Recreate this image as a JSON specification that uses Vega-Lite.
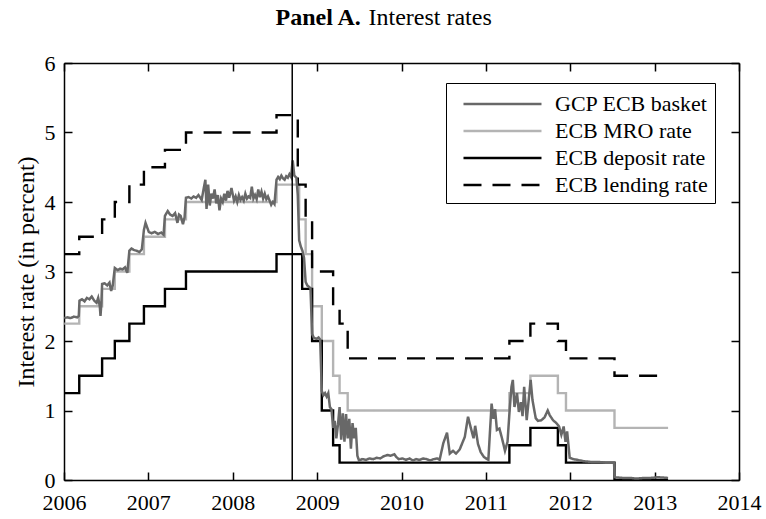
{
  "$schema": "https://vega.github.io/schema/vega-lite/v6.json",
  "width": 675,
  "height": 417,
  "autosize": {"type": "none"},
  "padding": {"left": 64, "top": 63, "right": 27, "bottom": 39},
  "background": "white",
  "config": {
    "view": {"stroke": null},
    "axis": {
      "domainColor": "black",
      "domainWidth": 1.5,
      "tickColor": "black",
      "tickWidth": 1.5,
      "grid": false,
      "labelFont": "Liberation Serif",
      "labelFontSize": 22,
      "labelColor": "black",
      "labelFlush": false,
      "titleFont": "Liberation Serif",
      "titleFontSize": 24,
      "titleFontWeight": "normal",
      "titleColor": "black"
    }
  },
  "resolve": {"axis": {"x": "independent", "y": "independent"}},
  "datasets": {
    "rates": [
      {"d": "2006-01-02", "s": "ECB MRO rate", "v": 2.25},
      {"d": "2006-03-08", "s": "ECB MRO rate", "v": 2.5},
      {"d": "2006-06-15", "s": "ECB MRO rate", "v": 2.75},
      {"d": "2006-08-09", "s": "ECB MRO rate", "v": 3.0},
      {"d": "2006-10-11", "s": "ECB MRO rate", "v": 3.25},
      {"d": "2006-12-13", "s": "ECB MRO rate", "v": 3.5},
      {"d": "2007-03-14", "s": "ECB MRO rate", "v": 3.75},
      {"d": "2007-06-13", "s": "ECB MRO rate", "v": 4.0},
      {"d": "2008-07-09", "s": "ECB MRO rate", "v": 4.25},
      {"d": "2008-10-15", "s": "ECB MRO rate", "v": 3.75},
      {"d": "2008-11-12", "s": "ECB MRO rate", "v": 3.25},
      {"d": "2008-12-10", "s": "ECB MRO rate", "v": 2.5},
      {"d": "2009-01-21", "s": "ECB MRO rate", "v": 2.0},
      {"d": "2009-03-11", "s": "ECB MRO rate", "v": 1.5},
      {"d": "2009-04-08", "s": "ECB MRO rate", "v": 1.25},
      {"d": "2009-05-13", "s": "ECB MRO rate", "v": 1.0},
      {"d": "2011-04-13", "s": "ECB MRO rate", "v": 1.25},
      {"d": "2011-07-13", "s": "ECB MRO rate", "v": 1.5},
      {"d": "2011-11-09", "s": "ECB MRO rate", "v": 1.25},
      {"d": "2011-12-14", "s": "ECB MRO rate", "v": 1.0},
      {"d": "2012-07-11", "s": "ECB MRO rate", "v": 0.75},
      {"d": "2013-02-28", "s": "ECB MRO rate", "v": 0.75},
      {"d": "2006-01-02", "s": "ECB deposit rate", "v": 1.25},
      {"d": "2006-03-08", "s": "ECB deposit rate", "v": 1.5},
      {"d": "2006-06-15", "s": "ECB deposit rate", "v": 1.75},
      {"d": "2006-08-09", "s": "ECB deposit rate", "v": 2.0},
      {"d": "2006-10-11", "s": "ECB deposit rate", "v": 2.25},
      {"d": "2006-12-13", "s": "ECB deposit rate", "v": 2.5},
      {"d": "2007-03-14", "s": "ECB deposit rate", "v": 2.75},
      {"d": "2007-06-13", "s": "ECB deposit rate", "v": 3.0},
      {"d": "2008-07-09", "s": "ECB deposit rate", "v": 3.25},
      {"d": "2008-10-28", "s": "ECB deposit rate", "v": 2.75},
      {"d": "2008-12-10", "s": "ECB deposit rate", "v": 2.0},
      {"d": "2009-01-21", "s": "ECB deposit rate", "v": 1.0},
      {"d": "2009-03-11", "s": "ECB deposit rate", "v": 0.5},
      {"d": "2009-04-08", "s": "ECB deposit rate", "v": 0.25},
      {"d": "2011-04-13", "s": "ECB deposit rate", "v": 0.5},
      {"d": "2011-07-13", "s": "ECB deposit rate", "v": 0.75},
      {"d": "2011-11-09", "s": "ECB deposit rate", "v": 0.5},
      {"d": "2011-12-14", "s": "ECB deposit rate", "v": 0.25},
      {"d": "2012-07-11", "s": "ECB deposit rate", "v": 0.0},
      {"d": "2013-02-28", "s": "ECB deposit rate", "v": 0.0},
      {"d": "2006-01-02", "s": "ECB lending rate", "v": 3.25},
      {"d": "2006-03-08", "s": "ECB lending rate", "v": 3.5},
      {"d": "2006-06-15", "s": "ECB lending rate", "v": 3.75},
      {"d": "2006-08-09", "s": "ECB lending rate", "v": 4.0},
      {"d": "2006-10-11", "s": "ECB lending rate", "v": 4.25},
      {"d": "2006-12-13", "s": "ECB lending rate", "v": 4.5},
      {"d": "2007-03-14", "s": "ECB lending rate", "v": 4.75},
      {"d": "2007-06-13", "s": "ECB lending rate", "v": 5.0},
      {"d": "2008-07-09", "s": "ECB lending rate", "v": 5.25},
      {"d": "2008-10-09", "s": "ECB lending rate", "v": 4.25},
      {"d": "2008-11-12", "s": "ECB lending rate", "v": 3.75},
      {"d": "2008-12-10", "s": "ECB lending rate", "v": 3.0},
      {"d": "2009-03-11", "s": "ECB lending rate", "v": 2.5},
      {"d": "2009-04-08", "s": "ECB lending rate", "v": 2.25},
      {"d": "2009-05-13", "s": "ECB lending rate", "v": 1.75},
      {"d": "2011-04-13", "s": "ECB lending rate", "v": 2.0},
      {"d": "2011-07-13", "s": "ECB lending rate", "v": 2.25},
      {"d": "2011-11-09", "s": "ECB lending rate", "v": 2.0},
      {"d": "2011-12-14", "s": "ECB lending rate", "v": 1.75},
      {"d": "2012-07-11", "s": "ECB lending rate", "v": 1.5},
      {"d": "2013-02-28", "s": "ECB lending rate", "v": 1.5}
    ],
    "gcp": [
      {"d": "2006-01-02", "s": "GCP ECB basket", "v": 2.33},
      {"d": "2006-01-16", "s": "GCP ECB basket", "v": 2.34},
      {"d": "2006-01-30", "s": "GCP ECB basket", "v": 2.33},
      {"d": "2006-02-13", "s": "GCP ECB basket", "v": 2.35},
      {"d": "2006-02-27", "s": "GCP ECB basket", "v": 2.34},
      {"d": "2006-03-06", "s": "GCP ECB basket", "v": 2.36},
      {"d": "2006-03-09", "s": "GCP ECB basket", "v": 2.58},
      {"d": "2006-03-20", "s": "GCP ECB basket", "v": 2.6},
      {"d": "2006-03-31", "s": "GCP ECB basket", "v": 2.57},
      {"d": "2006-04-10", "s": "GCP ECB basket", "v": 2.62},
      {"d": "2006-04-21", "s": "GCP ECB basket", "v": 2.6},
      {"d": "2006-05-01", "s": "GCP ECB basket", "v": 2.64},
      {"d": "2006-05-12", "s": "GCP ECB basket", "v": 2.58},
      {"d": "2006-05-22", "s": "GCP ECB basket", "v": 2.55},
      {"d": "2006-05-29", "s": "GCP ECB basket", "v": 2.62},
      {"d": "2006-06-05", "s": "GCP ECB basket", "v": 2.5},
      {"d": "2006-06-08", "s": "GCP ECB basket", "v": 2.36},
      {"d": "2006-06-12", "s": "GCP ECB basket", "v": 2.55},
      {"d": "2006-06-15", "s": "GCP ECB basket", "v": 2.82},
      {"d": "2006-06-26", "s": "GCP ECB basket", "v": 2.83},
      {"d": "2006-07-07", "s": "GCP ECB basket", "v": 2.8},
      {"d": "2006-07-17", "s": "GCP ECB basket", "v": 2.84},
      {"d": "2006-07-24", "s": "GCP ECB basket", "v": 2.72},
      {"d": "2006-07-31", "s": "GCP ECB basket", "v": 2.8},
      {"d": "2006-08-09", "s": "GCP ECB basket", "v": 3.05},
      {"d": "2006-08-21", "s": "GCP ECB basket", "v": 3.02},
      {"d": "2006-09-01", "s": "GCP ECB basket", "v": 3.04},
      {"d": "2006-09-11", "s": "GCP ECB basket", "v": 3.03},
      {"d": "2006-09-22", "s": "GCP ECB basket", "v": 3.06},
      {"d": "2006-10-02", "s": "GCP ECB basket", "v": 2.98},
      {"d": "2006-10-11", "s": "GCP ECB basket", "v": 3.3},
      {"d": "2006-10-20", "s": "GCP ECB basket", "v": 3.33},
      {"d": "2006-10-30", "s": "GCP ECB basket", "v": 3.31},
      {"d": "2006-11-10", "s": "GCP ECB basket", "v": 3.3},
      {"d": "2006-11-24", "s": "GCP ECB basket", "v": 3.28},
      {"d": "2006-12-04", "s": "GCP ECB basket", "v": 3.32},
      {"d": "2006-12-13", "s": "GCP ECB basket", "v": 3.6},
      {"d": "2006-12-20", "s": "GCP ECB basket", "v": 3.7},
      {"d": "2007-01-03", "s": "GCP ECB basket", "v": 3.57},
      {"d": "2007-01-15", "s": "GCP ECB basket", "v": 3.55},
      {"d": "2007-01-29", "s": "GCP ECB basket", "v": 3.57},
      {"d": "2007-02-12", "s": "GCP ECB basket", "v": 3.54},
      {"d": "2007-02-26", "s": "GCP ECB basket", "v": 3.56},
      {"d": "2007-03-08", "s": "GCP ECB basket", "v": 3.53},
      {"d": "2007-03-14", "s": "GCP ECB basket", "v": 3.8},
      {"d": "2007-03-26", "s": "GCP ECB basket", "v": 3.87},
      {"d": "2007-04-05", "s": "GCP ECB basket", "v": 3.82},
      {"d": "2007-04-16", "s": "GCP ECB basket", "v": 3.8},
      {"d": "2007-04-27", "s": "GCP ECB basket", "v": 3.84},
      {"d": "2007-05-07", "s": "GCP ECB basket", "v": 3.7},
      {"d": "2007-05-14", "s": "GCP ECB basket", "v": 3.82},
      {"d": "2007-05-21", "s": "GCP ECB basket", "v": 3.8},
      {"d": "2007-05-31", "s": "GCP ECB basket", "v": 3.68},
      {"d": "2007-06-07", "s": "GCP ECB basket", "v": 3.78},
      {"d": "2007-06-13", "s": "GCP ECB basket", "v": 4.06},
      {"d": "2007-06-25", "s": "GCP ECB basket", "v": 4.07},
      {"d": "2007-07-06", "s": "GCP ECB basket", "v": 4.05},
      {"d": "2007-07-16", "s": "GCP ECB basket", "v": 4.08},
      {"d": "2007-07-27", "s": "GCP ECB basket", "v": 4.06},
      {"d": "2007-08-06", "s": "GCP ECB basket", "v": 4.1},
      {"d": "2007-08-20", "s": "GCP ECB basket", "v": 4.03},
      {"d": "2007-08-29", "s": "GCP ECB basket", "v": 4.2},
      {"d": "2007-09-05", "s": "GCP ECB basket", "v": 4.32},
      {"d": "2007-09-10", "s": "GCP ECB basket", "v": 3.9},
      {"d": "2007-09-17", "s": "GCP ECB basket", "v": 4.25},
      {"d": "2007-09-24", "s": "GCP ECB basket", "v": 3.95},
      {"d": "2007-10-01", "s": "GCP ECB basket", "v": 4.12},
      {"d": "2007-10-08", "s": "GCP ECB basket", "v": 4.05},
      {"d": "2007-10-15", "s": "GCP ECB basket", "v": 4.18},
      {"d": "2007-10-22", "s": "GCP ECB basket", "v": 3.98},
      {"d": "2007-10-29", "s": "GCP ECB basket", "v": 4.1},
      {"d": "2007-11-05", "s": "GCP ECB basket", "v": 3.88},
      {"d": "2007-11-12", "s": "GCP ECB basket", "v": 4.05},
      {"d": "2007-11-19", "s": "GCP ECB basket", "v": 4.0},
      {"d": "2007-11-26", "s": "GCP ECB basket", "v": 4.12},
      {"d": "2007-12-03", "s": "GCP ECB basket", "v": 4.02},
      {"d": "2007-12-10", "s": "GCP ECB basket", "v": 4.16},
      {"d": "2007-12-17", "s": "GCP ECB basket", "v": 4.06},
      {"d": "2007-12-27", "s": "GCP ECB basket", "v": 4.2},
      {"d": "2008-01-07", "s": "GCP ECB basket", "v": 4.02},
      {"d": "2008-01-14", "s": "GCP ECB basket", "v": 4.08},
      {"d": "2008-01-21", "s": "GCP ECB basket", "v": 4.0},
      {"d": "2008-01-28", "s": "GCP ECB basket", "v": 4.1},
      {"d": "2008-02-04", "s": "GCP ECB basket", "v": 4.03},
      {"d": "2008-02-11", "s": "GCP ECB basket", "v": 4.07},
      {"d": "2008-02-18", "s": "GCP ECB basket", "v": 4.02},
      {"d": "2008-02-25", "s": "GCP ECB basket", "v": 4.12},
      {"d": "2008-03-03", "s": "GCP ECB basket", "v": 4.05},
      {"d": "2008-03-10", "s": "GCP ECB basket", "v": 4.08},
      {"d": "2008-03-17", "s": "GCP ECB basket", "v": 4.06},
      {"d": "2008-03-24", "s": "GCP ECB basket", "v": 4.22},
      {"d": "2008-03-31", "s": "GCP ECB basket", "v": 4.05},
      {"d": "2008-04-07", "s": "GCP ECB basket", "v": 4.1},
      {"d": "2008-04-14", "s": "GCP ECB basket", "v": 4.04},
      {"d": "2008-04-21", "s": "GCP ECB basket", "v": 4.18},
      {"d": "2008-04-28", "s": "GCP ECB basket", "v": 4.07},
      {"d": "2008-05-05", "s": "GCP ECB basket", "v": 4.15},
      {"d": "2008-05-12", "s": "GCP ECB basket", "v": 4.05},
      {"d": "2008-05-19", "s": "GCP ECB basket", "v": 4.12},
      {"d": "2008-05-26", "s": "GCP ECB basket", "v": 4.04},
      {"d": "2008-06-02", "s": "GCP ECB basket", "v": 4.08},
      {"d": "2008-06-09", "s": "GCP ECB basket", "v": 4.02},
      {"d": "2008-06-16", "s": "GCP ECB basket", "v": 3.96},
      {"d": "2008-06-23", "s": "GCP ECB basket", "v": 4.0},
      {"d": "2008-06-30", "s": "GCP ECB basket", "v": 3.97},
      {"d": "2008-07-09", "s": "GCP ECB basket", "v": 4.32},
      {"d": "2008-07-16", "s": "GCP ECB basket", "v": 4.36},
      {"d": "2008-07-23", "s": "GCP ECB basket", "v": 4.33},
      {"d": "2008-07-30", "s": "GCP ECB basket", "v": 4.38},
      {"d": "2008-08-06", "s": "GCP ECB basket", "v": 4.34},
      {"d": "2008-08-13", "s": "GCP ECB basket", "v": 4.32},
      {"d": "2008-08-20", "s": "GCP ECB basket", "v": 4.37},
      {"d": "2008-08-27", "s": "GCP ECB basket", "v": 4.35},
      {"d": "2008-09-03", "s": "GCP ECB basket", "v": 4.4},
      {"d": "2008-09-10", "s": "GCP ECB basket", "v": 4.36},
      {"d": "2008-09-17", "s": "GCP ECB basket", "v": 4.6},
      {"d": "2008-09-24", "s": "GCP ECB basket", "v": 4.38},
      {"d": "2008-10-03", "s": "GCP ECB basket", "v": 4.35},
      {"d": "2008-10-09", "s": "GCP ECB basket", "v": 4.1},
      {"d": "2008-10-15", "s": "GCP ECB basket", "v": 3.45},
      {"d": "2008-10-22", "s": "GCP ECB basket", "v": 3.36},
      {"d": "2008-10-29", "s": "GCP ECB basket", "v": 3.3},
      {"d": "2008-11-05", "s": "GCP ECB basket", "v": 3.2},
      {"d": "2008-11-12", "s": "GCP ECB basket", "v": 2.85},
      {"d": "2008-11-19", "s": "GCP ECB basket", "v": 2.8},
      {"d": "2008-11-26", "s": "GCP ECB basket", "v": 2.78},
      {"d": "2008-12-03", "s": "GCP ECB basket", "v": 2.76},
      {"d": "2008-12-10", "s": "GCP ECB basket", "v": 2.1},
      {"d": "2008-12-17", "s": "GCP ECB basket", "v": 2.05},
      {"d": "2008-12-29", "s": "GCP ECB basket", "v": 2.03},
      {"d": "2009-01-07", "s": "GCP ECB basket", "v": 2.05},
      {"d": "2009-01-14", "s": "GCP ECB basket", "v": 2.02},
      {"d": "2009-01-21", "s": "GCP ECB basket", "v": 1.28},
      {"d": "2009-01-28", "s": "GCP ECB basket", "v": 1.22},
      {"d": "2009-02-04", "s": "GCP ECB basket", "v": 1.25},
      {"d": "2009-02-11", "s": "GCP ECB basket", "v": 1.2},
      {"d": "2009-02-18", "s": "GCP ECB basket", "v": 1.25},
      {"d": "2009-02-25", "s": "GCP ECB basket", "v": 1.05},
      {"d": "2009-03-04", "s": "GCP ECB basket", "v": 1.02},
      {"d": "2009-03-11", "s": "GCP ECB basket", "v": 0.75},
      {"d": "2009-03-18", "s": "GCP ECB basket", "v": 0.85},
      {"d": "2009-03-25", "s": "GCP ECB basket", "v": 0.6},
      {"d": "2009-04-01", "s": "GCP ECB basket", "v": 0.8},
      {"d": "2009-04-08", "s": "GCP ECB basket", "v": 1.05},
      {"d": "2009-04-15", "s": "GCP ECB basket", "v": 0.58},
      {"d": "2009-04-22", "s": "GCP ECB basket", "v": 0.96},
      {"d": "2009-04-29", "s": "GCP ECB basket", "v": 0.55},
      {"d": "2009-05-06", "s": "GCP ECB basket", "v": 0.95},
      {"d": "2009-05-13", "s": "GCP ECB basket", "v": 0.6},
      {"d": "2009-05-20", "s": "GCP ECB basket", "v": 0.88},
      {"d": "2009-05-27", "s": "GCP ECB basket", "v": 0.45},
      {"d": "2009-06-03", "s": "GCP ECB basket", "v": 0.82},
      {"d": "2009-06-10", "s": "GCP ECB basket", "v": 0.6},
      {"d": "2009-06-17", "s": "GCP ECB basket", "v": 0.75},
      {"d": "2009-06-24", "s": "GCP ECB basket", "v": 0.35},
      {"d": "2009-07-01", "s": "GCP ECB basket", "v": 0.28},
      {"d": "2009-07-15", "s": "GCP ECB basket", "v": 0.3},
      {"d": "2009-08-01", "s": "GCP ECB basket", "v": 0.29},
      {"d": "2009-08-15", "s": "GCP ECB basket", "v": 0.31},
      {"d": "2009-09-01", "s": "GCP ECB basket", "v": 0.3},
      {"d": "2009-09-15", "s": "GCP ECB basket", "v": 0.32},
      {"d": "2009-10-01", "s": "GCP ECB basket", "v": 0.31},
      {"d": "2009-10-15", "s": "GCP ECB basket", "v": 0.34},
      {"d": "2009-11-01", "s": "GCP ECB basket", "v": 0.36},
      {"d": "2009-11-15", "s": "GCP ECB basket", "v": 0.35},
      {"d": "2009-12-01", "s": "GCP ECB basket", "v": 0.37},
      {"d": "2009-12-10", "s": "GCP ECB basket", "v": 0.33},
      {"d": "2009-12-20", "s": "GCP ECB basket", "v": 0.3},
      {"d": "2010-01-05", "s": "GCP ECB basket", "v": 0.31},
      {"d": "2010-01-20", "s": "GCP ECB basket", "v": 0.29},
      {"d": "2010-02-05", "s": "GCP ECB basket", "v": 0.31},
      {"d": "2010-02-20", "s": "GCP ECB basket", "v": 0.28},
      {"d": "2010-03-05", "s": "GCP ECB basket", "v": 0.3},
      {"d": "2010-03-20", "s": "GCP ECB basket", "v": 0.29},
      {"d": "2010-04-05", "s": "GCP ECB basket", "v": 0.31},
      {"d": "2010-04-20", "s": "GCP ECB basket", "v": 0.3},
      {"d": "2010-05-05", "s": "GCP ECB basket", "v": 0.28},
      {"d": "2010-05-20", "s": "GCP ECB basket", "v": 0.3},
      {"d": "2010-06-05", "s": "GCP ECB basket", "v": 0.31},
      {"d": "2010-06-15", "s": "GCP ECB basket", "v": 0.29},
      {"d": "2010-07-01", "s": "GCP ECB basket", "v": 0.53},
      {"d": "2010-07-17", "s": "GCP ECB basket", "v": 0.68},
      {"d": "2010-07-29", "s": "GCP ECB basket", "v": 0.38},
      {"d": "2010-08-12", "s": "GCP ECB basket", "v": 0.42},
      {"d": "2010-08-25", "s": "GCP ECB basket", "v": 0.38},
      {"d": "2010-09-10", "s": "GCP ECB basket", "v": 0.44},
      {"d": "2010-10-02", "s": "GCP ECB basket", "v": 0.62},
      {"d": "2010-10-16", "s": "GCP ECB basket", "v": 0.91},
      {"d": "2010-10-28", "s": "GCP ECB basket", "v": 0.75},
      {"d": "2010-11-09", "s": "GCP ECB basket", "v": 0.6},
      {"d": "2010-11-16", "s": "GCP ECB basket", "v": 0.78},
      {"d": "2010-11-28", "s": "GCP ECB basket", "v": 0.52},
      {"d": "2010-12-10", "s": "GCP ECB basket", "v": 0.4},
      {"d": "2010-12-24", "s": "GCP ECB basket", "v": 0.33},
      {"d": "2011-01-12", "s": "GCP ECB basket", "v": 0.29},
      {"d": "2011-01-26", "s": "GCP ECB basket", "v": 1.1},
      {"d": "2011-02-03", "s": "GCP ECB basket", "v": 0.88},
      {"d": "2011-02-10", "s": "GCP ECB basket", "v": 1.02},
      {"d": "2011-02-18", "s": "GCP ECB basket", "v": 0.72},
      {"d": "2011-03-01", "s": "GCP ECB basket", "v": 0.74},
      {"d": "2011-03-12", "s": "GCP ECB basket", "v": 0.6},
      {"d": "2011-03-25", "s": "GCP ECB basket", "v": 0.42},
      {"d": "2011-04-05", "s": "GCP ECB basket", "v": 0.55},
      {"d": "2011-04-14", "s": "GCP ECB basket", "v": 1.0},
      {"d": "2011-04-22", "s": "GCP ECB basket", "v": 1.34},
      {"d": "2011-04-28", "s": "GCP ECB basket", "v": 1.44},
      {"d": "2011-05-05", "s": "GCP ECB basket", "v": 1.05},
      {"d": "2011-05-16", "s": "GCP ECB basket", "v": 1.25},
      {"d": "2011-05-24", "s": "GCP ECB basket", "v": 0.98},
      {"d": "2011-06-02", "s": "GCP ECB basket", "v": 1.12},
      {"d": "2011-06-09", "s": "GCP ECB basket", "v": 0.92},
      {"d": "2011-06-16", "s": "GCP ECB basket", "v": 1.34},
      {"d": "2011-06-27", "s": "GCP ECB basket", "v": 0.86},
      {"d": "2011-07-14", "s": "GCP ECB basket", "v": 1.44},
      {"d": "2011-07-22", "s": "GCP ECB basket", "v": 1.15},
      {"d": "2011-08-05", "s": "GCP ECB basket", "v": 0.89},
      {"d": "2011-08-15", "s": "GCP ECB basket", "v": 0.85},
      {"d": "2011-08-29", "s": "GCP ECB basket", "v": 0.86},
      {"d": "2011-09-12", "s": "GCP ECB basket", "v": 0.9},
      {"d": "2011-09-26", "s": "GCP ECB basket", "v": 1.0},
      {"d": "2011-10-05", "s": "GCP ECB basket", "v": 0.93},
      {"d": "2011-10-19", "s": "GCP ECB basket", "v": 0.86},
      {"d": "2011-11-02", "s": "GCP ECB basket", "v": 0.82},
      {"d": "2011-11-14", "s": "GCP ECB basket", "v": 0.77},
      {"d": "2011-11-24", "s": "GCP ECB basket", "v": 0.65},
      {"d": "2011-12-04", "s": "GCP ECB basket", "v": 0.77},
      {"d": "2011-12-12", "s": "GCP ECB basket", "v": 0.55},
      {"d": "2011-12-19", "s": "GCP ECB basket", "v": 0.7},
      {"d": "2011-12-30", "s": "GCP ECB basket", "v": 0.32},
      {"d": "2012-01-15", "s": "GCP ECB basket", "v": 0.3},
      {"d": "2012-02-01", "s": "GCP ECB basket", "v": 0.29},
      {"d": "2012-02-15", "s": "GCP ECB basket", "v": 0.28},
      {"d": "2012-03-01", "s": "GCP ECB basket", "v": 0.27},
      {"d": "2012-04-01", "s": "GCP ECB basket", "v": 0.26},
      {"d": "2012-05-01", "s": "GCP ECB basket", "v": 0.26},
      {"d": "2012-06-01", "s": "GCP ECB basket", "v": 0.25},
      {"d": "2012-07-09", "s": "GCP ECB basket", "v": 0.25},
      {"d": "2012-07-12", "s": "GCP ECB basket", "v": 0.04},
      {"d": "2012-08-15", "s": "GCP ECB basket", "v": 0.03},
      {"d": "2012-09-15", "s": "GCP ECB basket", "v": 0.03},
      {"d": "2012-10-15", "s": "GCP ECB basket", "v": 0.02},
      {"d": "2012-11-15", "s": "GCP ECB basket", "v": 0.03},
      {"d": "2012-12-15", "s": "GCP ECB basket", "v": 0.03},
      {"d": "2013-01-15", "s": "GCP ECB basket", "v": 0.04},
      {"d": "2013-02-28", "s": "GCP ECB basket", "v": 0.03}
    ],
    "events": [
      {"d": "2008-09-15", "event": "Lehman"}
    ]
  },
  "layer": [
    {
      "data": {"name": "rates"},
      "mark": {"type": "line", "interpolate": "step-after", "strokeWidth": 2.4, "clip": true},
      "encoding": {
        "x": {
          "field": "d", "type": "temporal",
          "scale": {"domain": [{"year": 2006}, {"year": 2014}]},
          "axis": {"orient": "top", "values": [{"year": 2006}, {"year": 2007}, {"year": 2008}, {"year": 2009}, {"year": 2010}, {"year": 2011}, {"year": 2012}, {"year": 2013}, {"year": 2014}], "labels": false, "title": "Interest rates", "titleX": 304, "titleY": -39, "titleAlign": "left", "titleBaseline": "alphabetic", "titleAngle": 0, "tickSize": -8}
        },
        "y": {
          "field": "v", "type": "quantitative",
          "scale": {"domain": [0, 6], "nice": false},
          "axis": {"orient": "right", "values": [0, 1, 2, 3, 4, 5, 6], "labels": false, "title": "Panel A.", "titleFontWeight": "bold", "titleX": -464, "titleY": -39, "titleAlign": "left", "titleBaseline": "alphabetic", "titleAngle": 0, "tickSize": -8}
        },
        "color": {
          "field": "s", "type": "nominal",
          "scale": {"domain": ["GCP ECB basket", "ECB MRO rate", "ECB deposit rate", "ECB lending rate"], "range": ["#686868", "#b4b4b4", "#000000", "#000000"]},
          "legend": {"orient": "none", "legendX": 382, "legendY": 20, "title": null, "strokeColor": "black", "fillColor": "white", "padding": 6.5, "symbolType": "M-0.27,0H5.73", "symbolSize": 676, "symbolStrokeWidth": 2.5, "labelFont": "Liberation Serif", "labelFontSize": 22, "labelColor": "black", "labelOffset": 73.5, "rowPadding": 1, "labelLimit": 400}
        },
        "strokeDash": {
          "field": "s", "type": "nominal",
          "scale": {"domain": ["GCP ECB basket", "ECB MRO rate", "ECB deposit rate", "ECB lending rate"], "range": [[1, 0], [1, 0], [1, 0], [18, 11]]},
          "legend": {"orient": "none", "legendX": 382, "legendY": 20, "title": null, "strokeColor": "black", "fillColor": "white", "padding": 6.5, "symbolType": "M-0.27,0H5.73", "symbolSize": 676, "symbolStrokeWidth": 2.5, "labelFont": "Liberation Serif", "labelFontSize": 22, "labelColor": "black", "labelOffset": 73.5, "rowPadding": 1, "labelLimit": 400}
        },
        "order": {"field": "d", "type": "temporal"}
      }
    },
    {
      "data": {"name": "gcp"},
      "mark": {"type": "line", "strokeWidth": 2.5, "clip": true},
      "encoding": {
        "x": {
          "field": "d", "type": "temporal",
          "axis": {"orient": "bottom", "values": [{"year": 2006}, {"year": 2007}, {"year": 2008}, {"year": 2009}, {"year": 2010}, {"year": 2011}, {"year": 2012}, {"year": 2013}, {"year": 2014}], "format": "%Y", "title": null, "tickSize": -8, "labelPadding": 20}
        },
        "y": {
          "field": "v", "type": "quantitative",
          "axis": {"orient": "left", "values": [0, 1, 2, 3, 4, 5, 6], "title": "Interest rate (in percent)", "tickSize": -8, "labelPadding": 17, "titlePadding": 6}
        },
        "color": {"field": "s", "type": "nominal"},
        "strokeDash": {"field": "s", "type": "nominal"}
      }
    },
    {
      "data": {"name": "events"},
      "mark": {"type": "rule", "color": "black", "strokeWidth": 1.5},
      "encoding": {
        "x": {"field": "d", "type": "temporal", "axis": null}
      }
    }
  ]
}
